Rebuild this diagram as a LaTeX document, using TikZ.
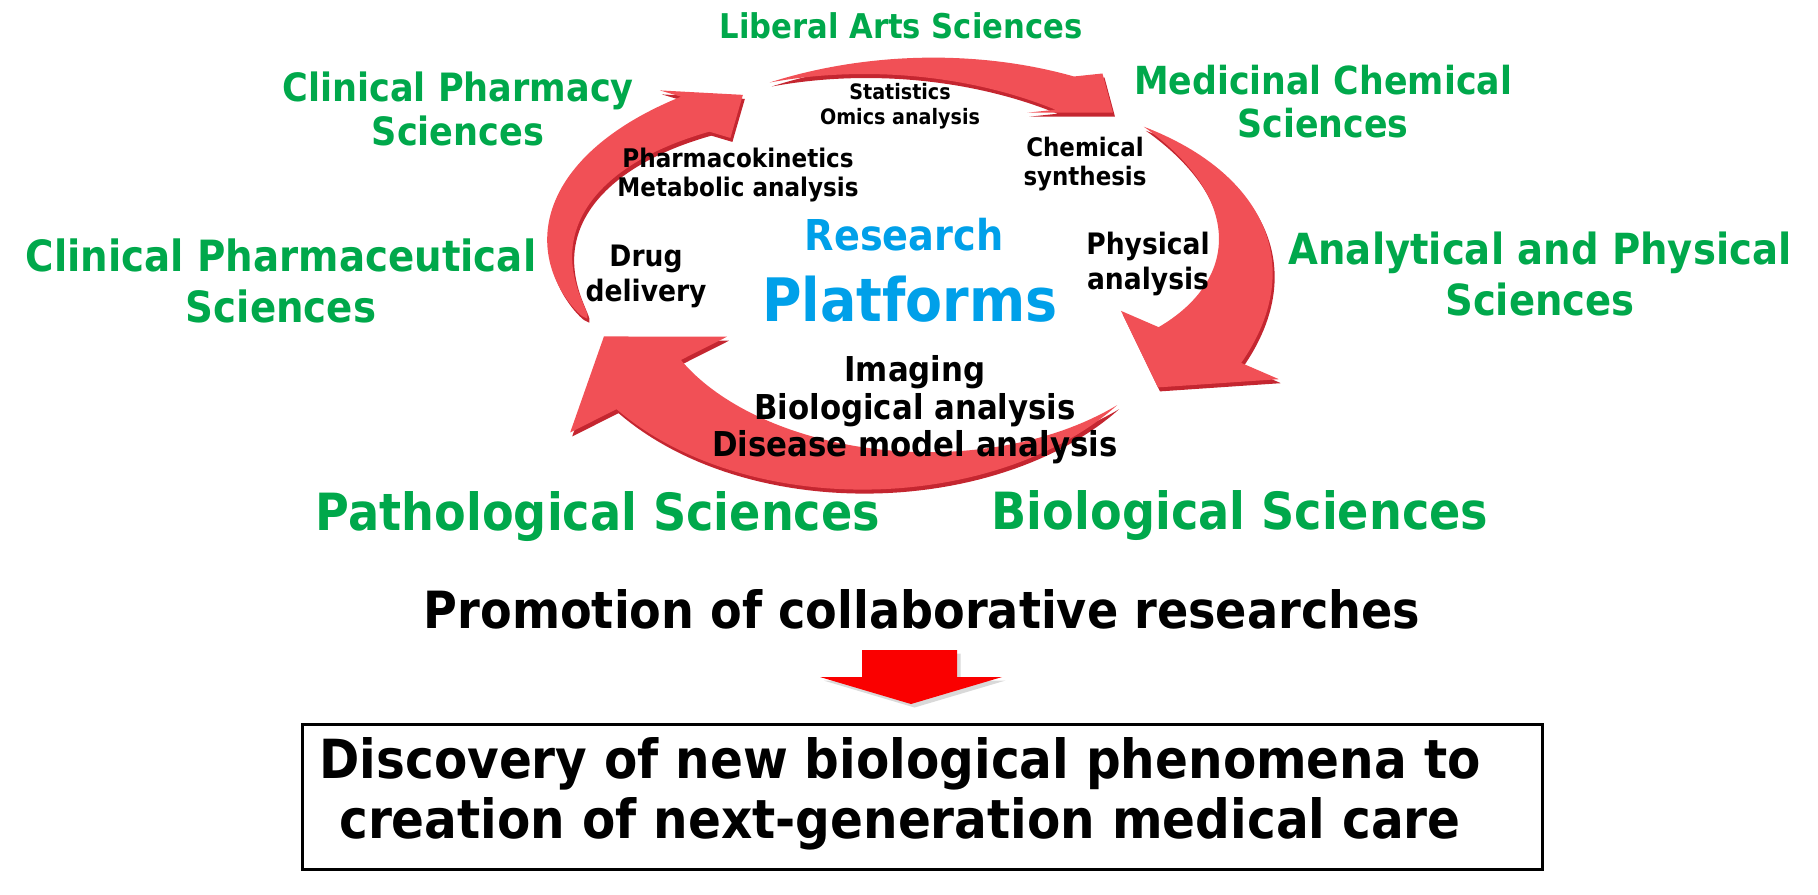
\documentclass[tikz,border=0pt]{standalone}
\usepackage{fontspec}
\setmainfont{DejaVu Sans}[FakeStretch=0.9]
\usetikzlibrary{positioning,shadows}

\definecolor{labgreen}{RGB}{0,168,75}
\definecolor{platblue}{RGB}{0,160,233}
\definecolor{ringred}{RGB}{241,80,86}
\definecolor{ringdark}{RGB}{196,38,48}
\definecolor{downred}{RGB}{250,0,0}

\newcommand{\fs}[2]{\fontsize{#1}{#2}\selectfont\bfseries}

% one tapered arrow of the ring:
% tail angle, base angle, tip angle, scale expr, width expr (both in \rfr),
% head width, head turn, style
\newcommand{\ringarrow}[8]{%
  \def\rta{#1}\def\rtb{#2}\def\rtp{#3}\def\rwh{#6}\def\rrot{#7}%
  \def\rfr{((\t-\rta)/(\rtb-\rta))}%
  \def\rsc{(#4)}\def\rwd{(#5)}%
  {\def\rfr{1}\pgfmathsetmacro\rsbx{#4}\xdef\rsb{\rsbx}}%
  \fill[#8]
    plot[domain=\rta:\rtb, samples=60, variable=\t]
      ({903+(337*\rsc+\rwd/2)*cos(\t)}, {268-(202*\rsc+\rwd/2)*sin(\t)})
    -- ({903+337*\rsb*cos(\rtb)+\rwh/2*cos(\rtb+(\rrot))},
        {268-202*\rsb*sin(\rtb)-\rwh/2*sin(\rtb+(\rrot))})
    -- ({903+337*\rsb*cos(\rtp)}, {268-202*\rsb*sin(\rtp)})
    -- ({903+337*\rsb*cos(\rtb)-\rwh/2*cos(\rtb+(\rrot))},
        {268-202*\rsb*sin(\rtb)+\rwh/2*sin(\rtb+(\rrot))})
    -- plot[domain=\rtb:\rta, samples=60, variable=\t]
      ({903+(337*\rsc-\rwd/2)*cos(\t)}, {268-(202*\rsc-\rwd/2)*sin(\t)})
    -- cycle;}

\tikzset{
  science/.style={text=labgreen, align=center, inner sep=0pt},
  method/.style={text=black, align=center, inner sep=0pt},
  platform/.style={text=platblue, inner sep=0pt},
  ringside/.style={ringdark, shift={(2,4)}},
}

\begin{document}
\begin{tikzpicture}[x=0.02cm, y=-0.02cm]
  \useasboundingbox (0,0) rectangle (1818,894);

  % Draw the ring of arrows, dark side first
  \foreach \lay in {ringside, ringred} {
    \ringarrow{195}{129}{119}{0.97+0.01*\rfr+0.06*sin(180*\rfr)}{45*sqrt(abs(\rfr))}{85}{17}{\lay}
    \ringarrow{113.3}{61}{51}{1-0.01*\rfr}{38*\rfr}{85}{-33.5}{\lay}
    \ringarrow{44.4}{-23.4}{-38}{1-0.04*\rfr+0.04*sin(180*\rfr)}{90*\rfr}{172}{0}{\lay}
    \ringarrow{-46.9}{-142.6}{-159.1}{0.93+0.02*\rfr+0.06*sin(180*\rfr)}{81*\rfr}{184}{-6}{\lay}
  }

  % Research platforms in the middle
  \node[platform, font=\fs{24.2}{28}] (research) at (904,235) {Research};
  \node[platform, font=\fs{34.1}{40}] (platforms) at (910,299) {Platforms};

  % Methods inside the ring
  \node[method, font=\fs{12.1}{14.2}] (stats) at (900,106) {Statistics\\Omics analysis};
  \node[method, font=\fs{14.6}{16.5}] (pharmaco) at (738,175) {Pharmacokinetics\\Metabolic analysis};
  \node[method, font=\fs{14.5}{17}] (chem) at (1085,164) {Chemical\\synthesis};
  \node[method, font=\fs{16.8}{20}] (drug) at (646,276) {Drug\\delivery};
  \node[method, font=\fs{16.8}{19.4}] (phys) at (1148,264) {Physical\\analysis};
  \node[method, font=\fs{19.5}{21.3}] (imaging) at (915,410) {Imaging\\Biological analysis\\Disease model analysis};

  % Sciences round the ring
  \node[science, font=\fs{19.4}{23}] (liberal) at (901,26) {Liberal Arts Sciences};
  \node[science, font=\fs{22.2}{25}] (clinpharmacy) at (458,109) {Clinical Pharmacy\\Sciences};
  \node[science, font=\fs{22}{24.5}] (medicinal) at (1323,102) {Medicinal Chemical\\Sciences};
  \node[science, font=\fs{24.5}{29}] (clinical) at (281,281) {Clinical Pharmaceutical\\Sciences};
  \node[science, font=\fs{24.4}{28.5}] (analytical) at (1540,274) {Analytical and Physical\\Sciences};
  \node[science, font=\fs{29.2}{34}] (patho) at (598,517) {Pathological Sciences};
  \node[science, font=\fs{29.2}{34}] (bio) at (1240,516) {Biological Sciences};

  % Promotion and the goal
  \node[method, font=\fs{29.2}{34}] (promotion) at (922,609) {Promotion of collaborative researches};
  \fill[downred, drop shadow={shadow xshift=2pt, shadow yshift=-2pt, opacity=.3}]
    (862,650) -- (957,650) -- (957,677) -- (1002,677) -- (911,704)
    -- (820,677) -- (862,677) -- cycle;
  \node[draw, line width=1.7pt, minimum width=24.8cm, minimum height=2.9cm,
        inner sep=0pt] (goalbox) at (922.5,797) {};
  \node[method, font=\fs{30.7}{34}] (goal) at (900,794)
    {Discovery of new biological phenomena to\\creation of next-generation medical care};
\end{tikzpicture}
\end{document}
